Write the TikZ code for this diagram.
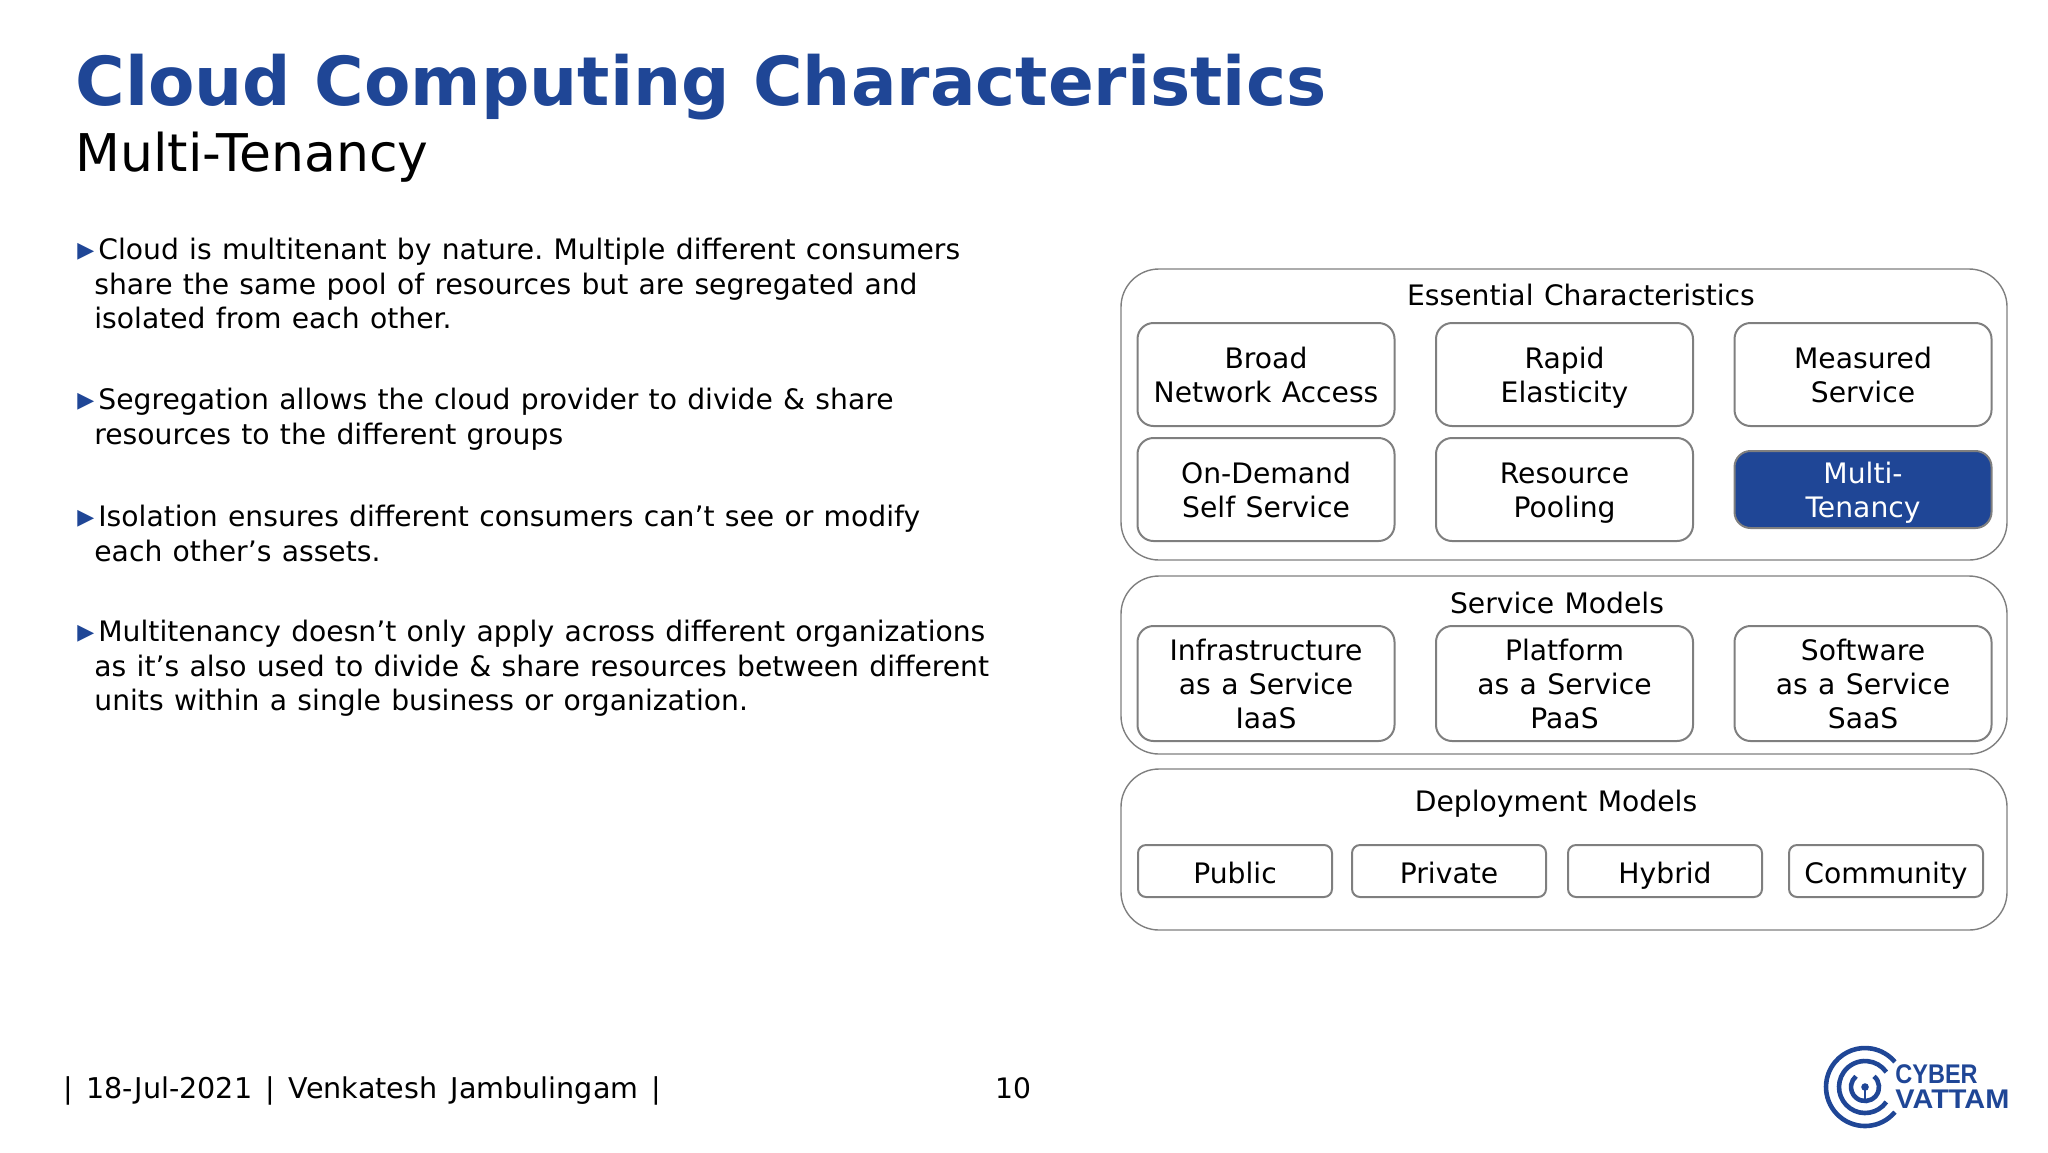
\documentclass[tikz,border=0pt]{standalone}
\usepackage{fontspec}
\setmainfont{DejaVu Sans}
\newfontfamily\logofont{Liberation Sans}
\definecolor{cvblue}{HTML}{1F4696}
\definecolor{cvgray}{HTML}{7F7F7F}
\newcommand{\bul}{\llap{\raisebox{1.2pt}{\textcolor{cvblue}{\fontsize{11pt}{11pt}\selectfont ▶}}}\kern2pt}
\newcommand{\slidefont}{\fontsize{14.1pt}{17pt}\selectfont\frenchspacing\spaceskip=.37em\relax}
\newcommand{\footerfont}{\fontsize{14.3pt}{17pt}\selectfont\frenchspacing\spaceskip=.47em\relax}
\newcommand{\bodyfont}{\fontsize{14.1pt}{17.15pt}\selectfont\frenchspacing\spaceskip=.365em\relax}

\begin{document}
\begin{tikzpicture}[x=0.5pt, y=-0.5pt,
	group/.style = {draw=cvgray, line width=0.7pt, rounded corners=19pt, inner sep=0pt},
	boxed/.style = {draw=cvgray, line width=1pt, inner sep=0pt, align=center, font=\slidefont},
	main/.style = {boxed, rounded corners=8pt, minimum width=128.5pt, minimum height=51.5pt, text height=28pt, text depth=0pt},
	model/.style = {main, minimum height=57.5pt, text height=44.5pt},
	deploy/.style = {boxed, rounded corners=4pt, minimum width=97pt, minimum height=26pt, text height=12.5pt, text depth=0pt},
	head/.style = {inner sep=0pt, font=\slidefont},
	body/.style = {inner sep=0pt, anchor=north west, align=left, font=\bodyfont}]
	\useasboundingbox (0,0) rectangle (2048,1152);
	% title
	\node[inner sep=0pt, anchor=base west, text=cvblue, font=\fontsize{33.8pt}{40pt}\selectfont\bfseries] (title) at (75,105) {Cloud Computing Characteristics};
	\node[inner sep=0pt, anchor=base west, font=\fontsize{26pt}{30pt}\selectfont] (subtitle) at (75,171) {Multi-Tenancy};
	% text on the left
	\node[body] (text1) at (94,238) {\bul Cloud is multitenant by nature. Multiple different consumers\\share the same pool of resources but are segregated and\\isolated from each other.};
	\node[body] (text2) at (94,388) {\bul Segregation allows the cloud provider to divide \& share\\resources to the different groups};
	\node[body] (text3) at (94,505) {\bul Isolation ensures different consumers can’t see or modify\\each other’s assets.};
	\node[body] (text4) at (94,620) {\bul Multitenancy doesn’t only apply across different organizations\\as it’s also used to divide \& share resources between different\\units within a single business or organization.};
	% the three groups
	\node[group, minimum width=443pt, minimum height=145.5pt] (essential) at (1564,414.5) {};
	\node[group, minimum width=443pt, minimum height=89pt] (service) at (1564,665) {};
	\node[group, minimum width=443pt, minimum height=80.5pt] (deployment) at (1564,849.5) {};
	\node[head] (essentialhead) at (1581,295) {Essential Characteristics};
	\node[head] (servicehead) at (1557,603) {Service Models};
	\node[head] (deploymenthead) at (1556,803.5) {Deployment Models};
	% essential characteristics
	\begin{scope}[node distance=149.25pt]
		\node[main] (broad) at (1266,374.5) {Broad\\Network Access};
		\node[main] (rapid) [right of=broad] {Rapid\\Elasticity};
		\node[main] (measured) [right of=rapid] {Measured\\Service};
		\node[main] (demand) at (1266,489.5) {On-Demand\\Self Service};
		\node[main] (pooling) [right of=demand] {Resource\\Pooling};
		\node[main, fill=cvblue, text=white, minimum height=38.5pt] (tenancy) [right of=pooling] {Multi-\\Tenancy};
		% service models
		\node[model] (iaas) at (1266,683.5) {Infrastructure\\as a Service\\IaaS};
		\node[model] (paas) [right of=iaas] {Platform\\as a Service\\PaaS};
		\node[model] (saas) [right of=paas] {Software\\as a Service\\SaaS};
	\end{scope}
	% deployment models
	\node[deploy] (public) at (1235,871) {Public};
	\node[deploy] (private) at (1449,871) {Private};
	\node[deploy] (hybrid) at (1665,871) {Hybrid};
	\node[deploy] (community) at (1886,871) {Community};
	% footer
	\node[inner sep=0pt, anchor=base west, font=\footerfont] (footer) at (63,1098) {| 18-Jul-2021 | Venkatesh Jambulingam |};
	\node[inner sep=0pt, anchor=base, font=\slidefont] (page) at (1013,1098) {10};
	% logo
	\draw[cvblue, line width=2.3pt] (1865,1087) ++(40:39) arc[start angle=40, end angle=320, radius=39];
	\draw[cvblue, line width=2.3pt] (1865,1087) ++(35:26) arc[start angle=35, end angle=325, radius=26];
	\draw[cvblue, line width=2.3pt] (1865,1087) ++(-50:14) arc[start angle=-50, end angle=230, radius=14];
	\fill[cvblue] (1865,1087) circle (1.9pt);
	\draw[cvblue, line width=1.4pt] (1865,1087) -- (1865,1101);
	\node[inner sep=0pt, anchor=base west, text=cvblue, font=\logofont\fontsize{13.5pt}{14pt}\selectfont\bfseries] (cyber) at (1895,1083) {\scalebox{.87}[1]{CYBER}};
	\node[inner sep=0pt, anchor=base west, text=cvblue, font=\logofont\fontsize{13.5pt}{14pt}\selectfont\bfseries] (vattam) at (1895,1108) {\scalebox{1.07}[1]{VATTAM}};
\end{tikzpicture}
\end{document}
